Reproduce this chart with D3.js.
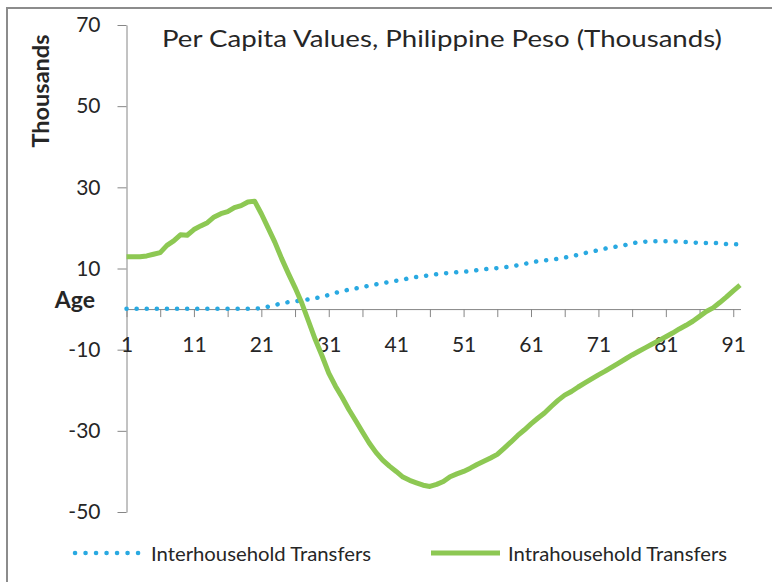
<!DOCTYPE html>
<html lang="en">
<head>
<meta charset="utf-8">
<title>Per Capita Values, Philippine Peso</title>
<script src="https://cdnjs.cloudflare.com/ajax/libs/d3/7.8.5/d3.min.js"></script>
<style>
  body { margin: 0; background: #fff; }
  svg { display: block; }
  text { font-family: Lato, "Open Sans", sans-serif; fill: #262626; }
  .axis path, .axis line { stroke: #868686; }
</style>
</head>
<body>
<script>
// ages 1..92
var ages = d3.range(1, 93);

var interhousehold = [
  0.1, 0.1, 0.1, 0.1, 0.1, 0.1, 0.1, 0.1, 0.1, 0.1,
  0.1, 0.1, 0.1, 0.1, 0.1, 0.1, 0.1, 0.1, 0.1, 0.1,
  0.2, 0.6, 1.0, 1.4, 1.7, 1.9, 2.2, 2.4, 2.7, 3.0,
  3.5, 4.0, 4.4, 4.8, 5.1, 5.4, 5.8, 6.1, 6.4, 6.7,
  7.0, 7.2, 7.7, 7.9, 8.1, 8.4, 8.6, 8.8, 8.9, 9.1,
  9.2, 9.3, 9.6, 9.8, 10.0, 10.1, 10.3, 10.5, 10.8, 11.1,
  11.5, 11.8, 12.0, 12.2, 12.4, 12.7, 13.0, 13.4, 13.8, 14.2,
  14.5, 14.9, 15.2, 15.5, 15.8, 16.2, 16.5, 16.6, 16.7, 16.7,
  16.7, 16.7, 16.6, 16.5, 16.4, 16.3, 16.3, 16.3, 16.2, 16.0,
  16.0, 16.0
];

var intrahousehold = [
  12.9, 12.9, 12.9, 13.1, 13.5, 13.9, 15.7, 16.8, 18.3, 18.2,
  19.6, 20.5, 21.3, 22.7, 23.5, 24.0, 25.0, 25.5, 26.4, 26.6,
  23.5, 20.0, 16.5, 12.5, 8.8, 5.3, 1.5, -3.0, -7.5, -11.5,
  -15.8, -19.0, -21.8, -24.8, -27.5, -30.3, -33.0, -35.3, -37.2, -38.7,
  -40.0, -41.4, -42.2, -42.8, -43.4, -43.7, -43.2, -42.5, -41.3, -40.6,
  -40.0, -39.2, -38.3, -37.5, -36.7, -35.8, -34.3, -32.8, -31.2, -29.8,
  -28.3, -26.9, -25.6, -24.0, -22.5, -21.2, -20.3, -19.2, -18.2, -17.2,
  -16.2, -15.3, -14.3, -13.3, -12.3, -11.3, -10.4, -9.5, -8.6, -7.7,
  -6.8, -5.9, -4.9, -4.0, -3.0, -1.8, -0.6, 0.3, 1.6, 3.0,
  4.5, 5.9
];

var yTicks = [70, 50, 30, 10, -10, -30, -50];
var xTickAges = d3.range(1, 92, 5);
var xLabelAges = d3.range(1, 92, 10);

var seriesNames = ["Interhousehold Transfers", "Intrahousehold Transfers"];
var blue = "#29a9e1", green = "#8dc853";

var w = 772, h = 582;

var svg = d3.select("body").append("svg")
  .attr("width", w)
  .attr("height", h);

// frame (left and top edges visible)
svg.append("path")
  .attr("d", "M7," + h + "V8H" + w)
  .attr("fill", "none")
  .attr("stroke", "#8c8c8c")
  .attr("stroke-width", 2);

var x = d3.scaleLinear().domain([1, 92]).range([126.5, 740]);
var y = d3.scaleLinear().domain([-50, 70]).range([512, 25]);

// y axis
var yAxis = svg.append("g")
  .attr("class", "axis")
  .attr("transform", "translate(126.5,0)")
  .call(d3.axisLeft(y).tickValues(yTicks).tickSize(9).tickSizeOuter(0).tickPadding(17)
    .tickFormat(function(d) { return String(d); }));
yAxis.selectAll("text").style("font-size", "21px").attr("fill", "#262626");

// x axis at zero
var xAxis = svg.append("g")
  .attr("class", "axis")
  .attr("transform", "translate(0," + y(0) + ")")
  .call(d3.axisBottom(x).tickValues(xTickAges).tickSize(8).tickSizeOuter(0).tickPadding(20)
    .tickFormat(function(d) { return xLabelAges.indexOf(d) >= 0 ? String(d) : ""; }));
xAxis.selectAll("text").style("font-size", "21px").attr("fill", "#262626");
xAxis.select(".domain").attr("d", "M126.5,0.5H741");

// title
svg.append("text")
  .attr("x", 442)
  .attr("y", 47)
  .attr("text-anchor", "middle")
  .attr("textLength", 560)
  .attr("lengthAdjust", "spacingAndGlyphs")
  .style("font-size", "23px")
  .text("Per Capita Values, Philippine Peso (Thousands)");

// y title
svg.append("text")
  .attr("transform", "translate(49,91) rotate(-90)")
  .attr("text-anchor", "middle")
  .style("font-size", "23.5px")
  .style("font-weight", "bold")
  .text("Thousands");

// age label
svg.append("text")
  .attr("x", 95)
  .attr("y", 308)
  .attr("text-anchor", "end")
  .style("font-size", "23px")
  .style("font-weight", "bold")
  .text("Age");

var line = d3.line()
  .x(function(d, i) { return x(ages[i]); })
  .y(function(d) { return y(d); });

svg.append("path")
  .datum(interhousehold)
  .attr("d", line)
  .attr("fill", "none")
  .attr("stroke", blue)
  .attr("stroke-width", 4.5)
  .attr("stroke-linecap", "round")
  .attr("stroke-dasharray", "0.1 10");

svg.append("path")
  .datum(intrahousehold)
  .attr("d", line)
  .attr("fill", "none")
  .attr("stroke", green)
  .attr("stroke-width", 5)
  .attr("stroke-linejoin", "round");

// legend
var legendY = 553;
svg.append("line")
  .attr("x1", 75).attr("x2", 139)
  .attr("y1", legendY).attr("y2", legendY)
  .attr("stroke", blue)
  .attr("stroke-width", 4.5)
  .attr("stroke-linecap", "round")
  .attr("stroke-dasharray", "0.1 10.4");
svg.append("text")
  .attr("x", 151).attr("y", 561)
  .attr("textLength", 220)
  .attr("lengthAdjust", "spacingAndGlyphs")
  .style("font-size", "19px")
  .text(seriesNames[0]);

svg.append("line")
  .attr("x1", 431).attr("x2", 500)
  .attr("y1", legendY).attr("y2", legendY)
  .attr("stroke", green)
  .attr("stroke-width", 5);
svg.append("text")
  .attr("x", 508).attr("y", 561)
  .attr("textLength", 219)
  .attr("lengthAdjust", "spacingAndGlyphs")
  .style("font-size", "19px")
  .text(seriesNames[1]);
</script>
</body>
</html>
